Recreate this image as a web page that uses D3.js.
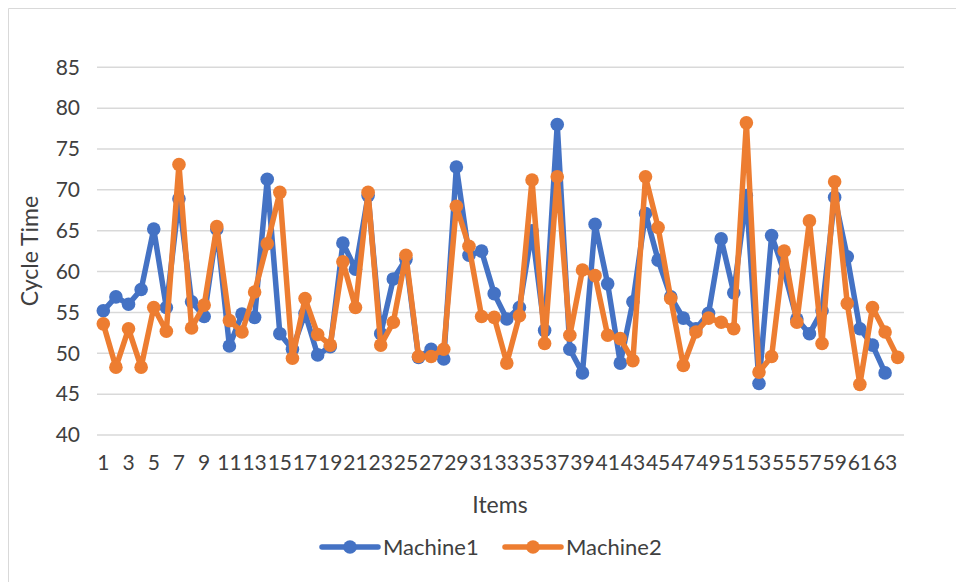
<!DOCTYPE html>
<html>
<head>
<meta charset="utf-8">
<script src="https://cdn.jsdelivr.net/npm/d3@7"></script>
<style>
  body { margin: 0; background: #fff; }
  svg { display: block; font-family: Lato, "Noto Sans", sans-serif; }
</style>
</head>
<body>
<div id="chart"></div>
<script>
const items = d3.range(1, 65);
const machine1 = [55.2, 56.9, 56.0, 57.8, 65.2, 55.6, 68.9, 56.3, 54.5, 65.2,
  50.9, 54.8, 54.4, 71.3, 52.4, 50.5, 54.9, 49.8, 50.8, 63.5,
  60.3, 69.3, 52.4, 59.1, 61.5, 49.5, 50.5, 49.3, 72.8, 62.0,
  62.5, 57.3, 54.2, 55.6, 65.0, 52.8, 78.0, 50.5, 47.6, 65.8,
  58.5, 48.8, 56.3, 67.1, 61.4, 56.9, 54.3, 53.0, 54.9, 64.0,
  57.4, 69.3, 46.3, 64.4, 60.0, 54.2, 52.4, 55.2, 69.1, 61.8,
  53.0, 51.0, 47.6];
const machine2 = [53.6, 48.3, 53.0, 48.3, 55.6, 52.7, 73.1, 53.1, 55.9, 65.5,
  54.0, 52.6, 57.5, 63.4, 69.7, 49.4, 56.7, 52.3, 51.0, 61.2,
  55.6, 69.7, 51.0, 53.8, 62.0, 49.6, 49.6, 50.5, 68.0, 63.1,
  54.5, 54.4, 48.8, 54.6, 71.2, 51.2, 71.6, 52.2, 60.2, 59.5,
  52.2, 51.8, 49.1, 71.6, 65.4, 56.7, 48.5, 52.6, 54.3, 53.8,
  53.0, 78.2, 47.7, 49.6, 62.5, 53.8, 66.2, 51.2, 71.0, 56.1,
  46.2, 55.6, 52.6, 49.5];
const yTicks = [40, 45, 50, 55, 60, 65, 70, 75, 80, 85];

const series = [
  { name: 'Machine1', values: machine1, color: '#4472C4' },
  { name: 'Machine2', values: machine2, color: '#ED7D31' },
];

const width = 956;
const height = 582;

const svg = d3.select('#chart')
  .append('svg')
  .attr('width', width)
  .attr('height', height);

// chart frame (only top and left edges show in the picture)
svg.append('path')
  .attr('d', `M8.5,${height} V8.5 H${width}`)
  .attr('fill', 'none')
  .attr('stroke', '#d9d9d9');

const x = d3.scaleBand().domain(items).range([97, 904]);
const cx = (i) => x(i) + x.bandwidth() / 2;
const y = d3.scaleLinear().domain([40, 85]).range([435, 67.3]);

// gridlines
svg.append('g')
  .selectAll('line')
  .data(yTicks)
  .enter()
  .append('line')
  .attr('x1', 97)
  .attr('x2', 904)
  .attr('y1', (d) => y(d))
  .attr('y2', (d) => y(d))
  .attr('stroke', '#d9d9d9')
  .attr('stroke-width', 1.5);

// y axis labels
const yAxis = svg.append('g')
  .attr('transform', 'translate(80,0)')
  .call(d3.axisLeft(y).tickValues(yTicks).tickSize(0).tickPadding(0));
yAxis.select('.domain').remove();
yAxis.selectAll('text')
  .attr('font-size', 21)
  .attr('font-family', 'Lato, sans-serif')
  .attr('fill', '#404040');

// x axis labels (every other item)
const xAxis = svg.append('g')
  .attr('transform', 'translate(0,455)')
  .call(d3.axisBottom(x).tickValues(items.filter((d) => d % 2 === 1)).tickSize(0).tickPadding(0));
xAxis.select('.domain').remove();
xAxis.selectAll('text')
  .attr('font-size', 21)
  .attr('font-family', 'Lato, sans-serif')
  .attr('fill', '#404040');

// axis titles
svg.append('text')
  .attr('x', 500)
  .attr('y', 513)
  .attr('text-anchor', 'middle')
  .attr('font-size', 23)
  .attr('fill', '#404040')
  .text('Items');

svg.append('text')
  .attr('transform', 'translate(38,251) rotate(-90)')
  .attr('text-anchor', 'middle')
  .attr('font-size', 23)
  .attr('fill', '#404040')
  .text('Cycle Time');

// lines + markers
const line = d3.line()
  .x((d, i) => cx(items[i]))
  .y((d) => y(d));

series.forEach((s) => {
  const g = svg.append('g').attr('class', s.name);
  g.append('path')
    .datum(s.values)
    .attr('d', line)
    .attr('fill', 'none')
    .attr('stroke', s.color)
    .attr('stroke-width', 5.5)
    .attr('stroke-linejoin', 'round');
  g.selectAll('circle')
    .data(s.values)
    .enter()
    .append('circle')
    .attr('cx', (d, i) => cx(items[i]))
    .attr('cy', (d) => y(d))
    .attr('r', 6.8)
    .attr('fill', s.color);
});

// legend
const legendX = [322, 505];
const legend = svg.append('g')
  .selectAll('g')
  .data(series)
  .enter()
  .append('g')
  .attr('transform', (d, i) => `translate(${legendX[i]},547)`);

legend.append('line')
  .attr('x1', 0)
  .attr('x2', 56)
  .attr('stroke', (d) => d.color)
  .attr('stroke-width', 5.5)
  .attr('stroke-linecap', 'round');

legend.append('circle')
  .attr('cx', 28)
  .attr('r', 6.8)
  .attr('fill', (d) => d.color);

legend.append('text')
  .attr('x', 61)
  .attr('dy', '0.35em')
  .attr('font-size', 22)
  .attr('fill', '#404040')
  .text((d) => d.name);
</script>
</body>
</html>
